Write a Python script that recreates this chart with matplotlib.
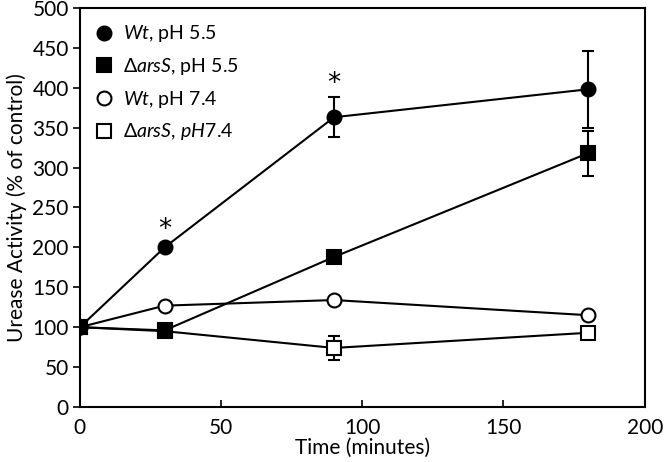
import matplotlib.pyplot as plt

plt.rcParams.update({
    'font.family': ['Lato', 'DejaVu Sans'],
    'font.size': 15,
    'mathtext.fontset': 'custom',
    'mathtext.rm': 'Lato',
    'mathtext.it': 'Lato:italic',
    'axes.linewidth': 1.5,
})

time_min = [0, 30, 90, 180]

wt_ph55 = [100, 200, 363, 398]
wt_ph55_err = [0, 0, 25, 48]
arss_ph55 = [100, 96, 188, 318]
arss_ph55_err = [0, 0, 0, 28]
wt_ph74 = [100, 127, 134, 115]
wt_ph74_err = [0, 0, 0, 0]
arss_ph74 = [100, 95, 74, 93]
arss_ph74_err = [0, 0, 15, 0]

labels = [r'$\it{Wt}$, pH 5.5', r'$\it{ΔarsS}$, pH 5.5',
          r'$\it{Wt}$, pH 7.4', r'$\it{ΔarsS,\,pH7.4}$']
star_times = [30, 90]

fig = plt.figure(figsize=(6.66, 4.62), dpi=100)
ax = fig.add_axes([0.12, 0.119, 0.848, 0.864])

common = dict(color='black', linewidth=1.5, markersize=10,
              markeredgewidth=1.5, capsize=4, elinewidth=1.5, capthick=1.5)

# open symbols first so the filled ones sit on top at t=0
h4 = ax.errorbar(time_min, arss_ph74, yerr=arss_ph74_err, marker='s',
                 markerfacecolor='white', markeredgecolor='black', zorder=2, **common)
h3 = ax.errorbar(time_min, wt_ph74, yerr=wt_ph74_err, marker='o',
                 markerfacecolor='white', markeredgecolor='black', zorder=2, **common)
h2 = ax.errorbar(time_min, arss_ph55, yerr=arss_ph55_err, marker='s',
                 markerfacecolor='black', zorder=3, **common)
h1 = ax.errorbar(time_min, wt_ph55, yerr=wt_ph55_err, marker='o',
                 markerfacecolor='black', zorder=3, **common)

# significance stars
for t in star_times:
    i = time_min.index(t)
    ax.text(t, wt_ph55[i] + max(wt_ph55_err[i], 6), '*', ha='center',
            va='bottom', fontsize=19, family='DejaVu Sans')

ax.set_xlim(0, 200)
ax.set_ylim(0, 500)
ax.set_xticks(range(0, 201, 50))
ax.set_yticks(range(0, 501, 50))
ax.tick_params(axis='x', direction='in', length=5, width=1.2, pad=8)
ax.tick_params(axis='y', direction='out', length=5, width=1.2, pad=3)
ax.set_xlabel('Time (minutes)', labelpad=0)
ax.set_ylabel('Urease Activity (% of control)', labelpad=4)

handles = [h1[0], h2[0], h3[0], h4[0]]
leg = ax.legend(handles, labels, loc='upper left', frameon=False, fontsize=14,
                handlelength=0.9, handletextpad=0.5, labelspacing=0.6,
                borderaxespad=0.4)
for lh in leg.legend_handles:
    lh.set_linestyle('none')

fig.savefig('out.png', dpi=100)
